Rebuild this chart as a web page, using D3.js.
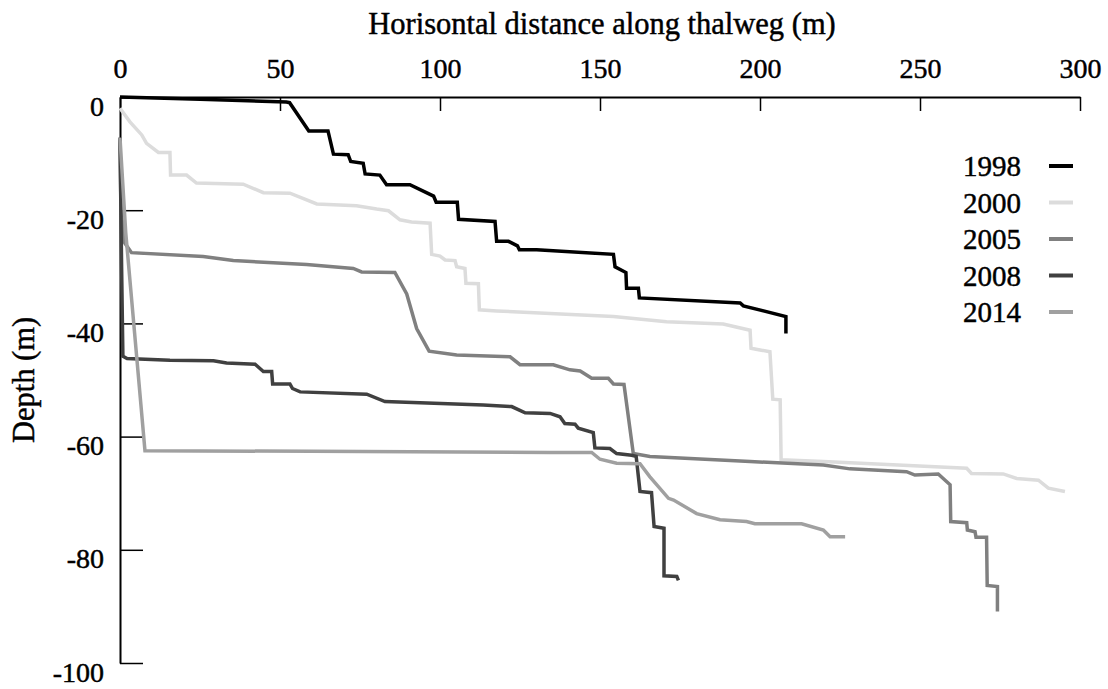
<!DOCTYPE html>
<html>
<head>
<meta charset="utf-8">
<script src="https://cdn.jsdelivr.net/npm/d3@7"></script>
<style>
  body { margin: 0; background: #fff; }
  svg { display: block; }
  svg text { font-family: "Liberation Serif", "Times New Roman", serif; stroke: #000; stroke-width: 0.45px; }
</style>
</head>
<body>
<svg id="chart" width="1108" height="689"></svg>
<script>
// thalweg profiles, [distance (m), depth (m)]
const years = ['1998', '2000', '2005', '2008', '2014'];
const colors = ['#000000', '#dcdcdc', '#808080', '#404040', '#a0a0a0'];

const p1998 = [
  [0, 0], [25, -0.4], [52, -0.9], [53, -1], [59, -6], [65, -6], [66.7, -10.1], [71.3, -10.2],
  [72.1, -11.4], [76, -11.7], [76.6, -13.6], [81.2, -13.8], [83.3, -15.5], [90.6, -15.5],
  [98, -17.5], [98.8, -18.6], [105.4, -18.6], [105.8, -21.6], [117.2, -22], [117.7, -25.5],
  [121.4, -25.5], [124.2, -26.3], [124.8, -27], [130.2, -27], [154.2, -27.8], [154.7, -30],
  [158.1, -31], [158.3, -33.8], [162, -33.8], [162.3, -35.5], [193.8, -36.4], [194.8, -36.9],
  [208.1, -38.8], [208.1, -41.8]
];
const p2000 = [
  [0, -2], [3.1, -4.4], [6.8, -6.7], [8.3, -8.2], [12, -9.8], [15.6, -9.8], [15.8, -13.8],
  [20.8, -13.8], [23.9, -15.2], [38.5, -15.4], [44.8, -16.9], [53.1, -17], [61.5, -18.9],
  [73.9, -19.2], [80.2, -19.8], [83.9, -20.1], [87.5, -21.7], [91.1, -22.1], [96.9, -22.3],
  [97.4, -27.8], [100, -28.1], [101.6, -28.8], [104.7, -28.9], [105.2, -30], [107.8, -30.3],
  [108.1, -32.9], [112, -33], [112.3, -37.6], [117.7, -37.8], [154.2, -38.8], [170.8, -39.7],
  [188.5, -40.1], [196.9, -41.2], [197.2, -44.4], [200, -44.7], [203.1, -45], [204, -53.4],
  [206.3, -53.5], [206.6, -64.1], [219.8, -64.4], [264.6, -65.6], [266.1, -66.5], [276, -66.6],
  [280.2, -67.4], [287, -67.7], [290.1, -69.1], [295.3, -69.7]
];
const p2005 = [
  [0, -7.2], [0.3, -20], [1.5, -25.8], [3.6, -27.5], [26, -28.2], [35.4, -28.9], [58.3, -29.6],
  [72.9, -30.3], [75.5, -30.9], [85.9, -31], [89.6, -34.8], [92.7, -40.9], [96.6, -44.9],
  [105.2, -45.6], [121.9, -45.9], [125, -47.3], [135.4, -47.3], [140.6, -48.2], [143.8, -48.4],
  [147.4, -49.7], [152.6, -49.7], [154.2, -50.7], [157.5, -50.8], [160.4, -63], [165.6, -63.5],
  [196.9, -64.4], [219.8, -65], [228.1, -65.7], [245.8, -66.2], [248.4, -66.8], [255.7, -66.6],
  [259.4, -68.5], [259.6, -75], [264.6, -75.2], [264.8, -76.5], [267.2, -76.8], [267.5, -77.8],
  [270.8, -77.8], [271, -86.3], [274.2, -86.5], [274.2, -90.9]
];
const p2008 = [
  [0, -7.2], [0.5, -30], [0.9, -45.8], [2.2, -46.2], [15.6, -46.5], [29.2, -46.6], [33.3, -47],
  [42.2, -47.2], [44.8, -48.5], [47.4, -48.5], [47.7, -50.7], [53.1, -50.7], [53.9, -51.5],
  [56.3, -52.1], [77.1, -52.5], [82.8, -53.8], [113.5, -54.4], [122.4, -54.7], [126.6, -55.8],
  [134.4, -55.9], [137.5, -56.5], [139, -57.7], [142.2, -57.8], [143.2, -58.5], [147.9, -59.3],
  [148.4, -62], [153.1, -62.1], [155.2, -63], [159.9, -63.3], [161.3, -63.5], [162.5, -69.7],
  [166.1, -69.9], [166.9, -75.9], [170, -76.2], [170, -84.6], [174, -84.7], [174.5, -85.4]
];
const p2014 = [
  [0, -7.2], [1.8, -24], [7.8, -62.5], [60, -62.6], [134.4, -62.8], [147.4, -62.8], [150, -64],
  [155.2, -64.7], [162.5, -64.8], [165.6, -67.1], [171.4, -70.9], [173, -71.2], [180.2, -73.6],
  [187.5, -74.7], [195.8, -75], [198.4, -75.4], [213, -75.4], [219.8, -76.5], [221.9, -77.7],
  [226.6, -77.7]
];
const profiles = [p1998, p2000, p2005, p2008, p2014];

const xTicks = [0, 50, 100, 150, 200, 250, 300];
const yTicks = [0, -20, -40, -60, -80, -100];

const svg = d3.select('#chart');
const tickSize = 28;
const titleSize = 30.5;
const legendSize = 29;

// plain hyphen for negatives, as in the figure
const fmt = d => String(d);

const x = d3.scaleLinear().domain([0, 300]).range([120, 1080]);
const y = d3.scaleLinear().domain([0, -100]).range([97, 663]);

// top axis, ticks pointing into the plot
const xAxis = svg.append('g')
  .attr('transform', `translate(0,${y(0)})`)
  .call(d3.axisBottom(x).tickValues(xTicks).tickSizeInner(14).tickSizeOuter(0).tickFormat(fmt))
  .attr('font-family', null)
  .attr('font-size', null);
xAxis.select('.domain').attr('stroke', '#000').attr('stroke-width', 2);
xAxis.selectAll('.tick line').attr('stroke', '#000').attr('stroke-width', 1.5);
xAxis.selectAll('.tick text')
  .attr('y', -19)
  .attr('dy', 0)
  .attr('fill', '#000')
  .style('font-size', `${tickSize}px`);

const yAxis = svg.append('g')
  .attr('transform', `translate(${x(0)},0)`)
  .call(d3.axisRight(y).tickValues(yTicks).tickSizeInner(23).tickSizeOuter(0).tickFormat(fmt))
  .attr('font-family', null)
  .attr('font-size', null);
yAxis.select('.domain').attr('stroke', '#000').attr('stroke-width', 2);
yAxis.selectAll('.tick line').attr('stroke', '#000').attr('stroke-width', 1.5);
yAxis.selectAll('.tick text')
  .attr('x', -16)
  .attr('dy', 18)
  .attr('text-anchor', 'end')
  .attr('fill', '#000')
  .style('font-size', `${tickSize}px`);

// axis titles
svg.append('text')
  .attr('x', 602)
  .attr('y', 34)
  .attr('text-anchor', 'middle')
  .style('font-size', `${titleSize}px`)
  .text('Horisontal distance along thalweg (m)');

svg.append('text')
  .attr('transform', 'translate(34,380) rotate(-90)')
  .attr('text-anchor', 'middle')
  .style('font-size', `${titleSize}px`)
  .text('Depth (m)');

// profiles
const line = d3.line()
  .x(d => x(d[0]))
  .y(d => y(d[1]));

svg.append('g')
  .selectAll('path')
  .data(profiles)
  .join('path')
  .attr('d', line)
  .attr('fill', 'none')
  .attr('stroke', (d, i) => colors[i])
  .attr('stroke-width', 3.5)
  .attr('stroke-linejoin', 'miter');

// legend
const legend = svg.append('g')
  .selectAll('g')
  .data(years)
  .join('g')
  .attr('transform', (d, i) => `translate(0,${166 + i * 36.5})`);

legend.append('text')
  .attr('x', 1021)
  .attr('y', 10)
  .attr('text-anchor', 'end')
  .style('font-size', `${legendSize}px`)
  .text(d => d);

legend.append('line')
  .attr('x1', 1049)
  .attr('x2', 1073)
  .attr('stroke', (d, i) => colors[i])
  .attr('stroke-width', 4);
</script>
</body>
</html>
